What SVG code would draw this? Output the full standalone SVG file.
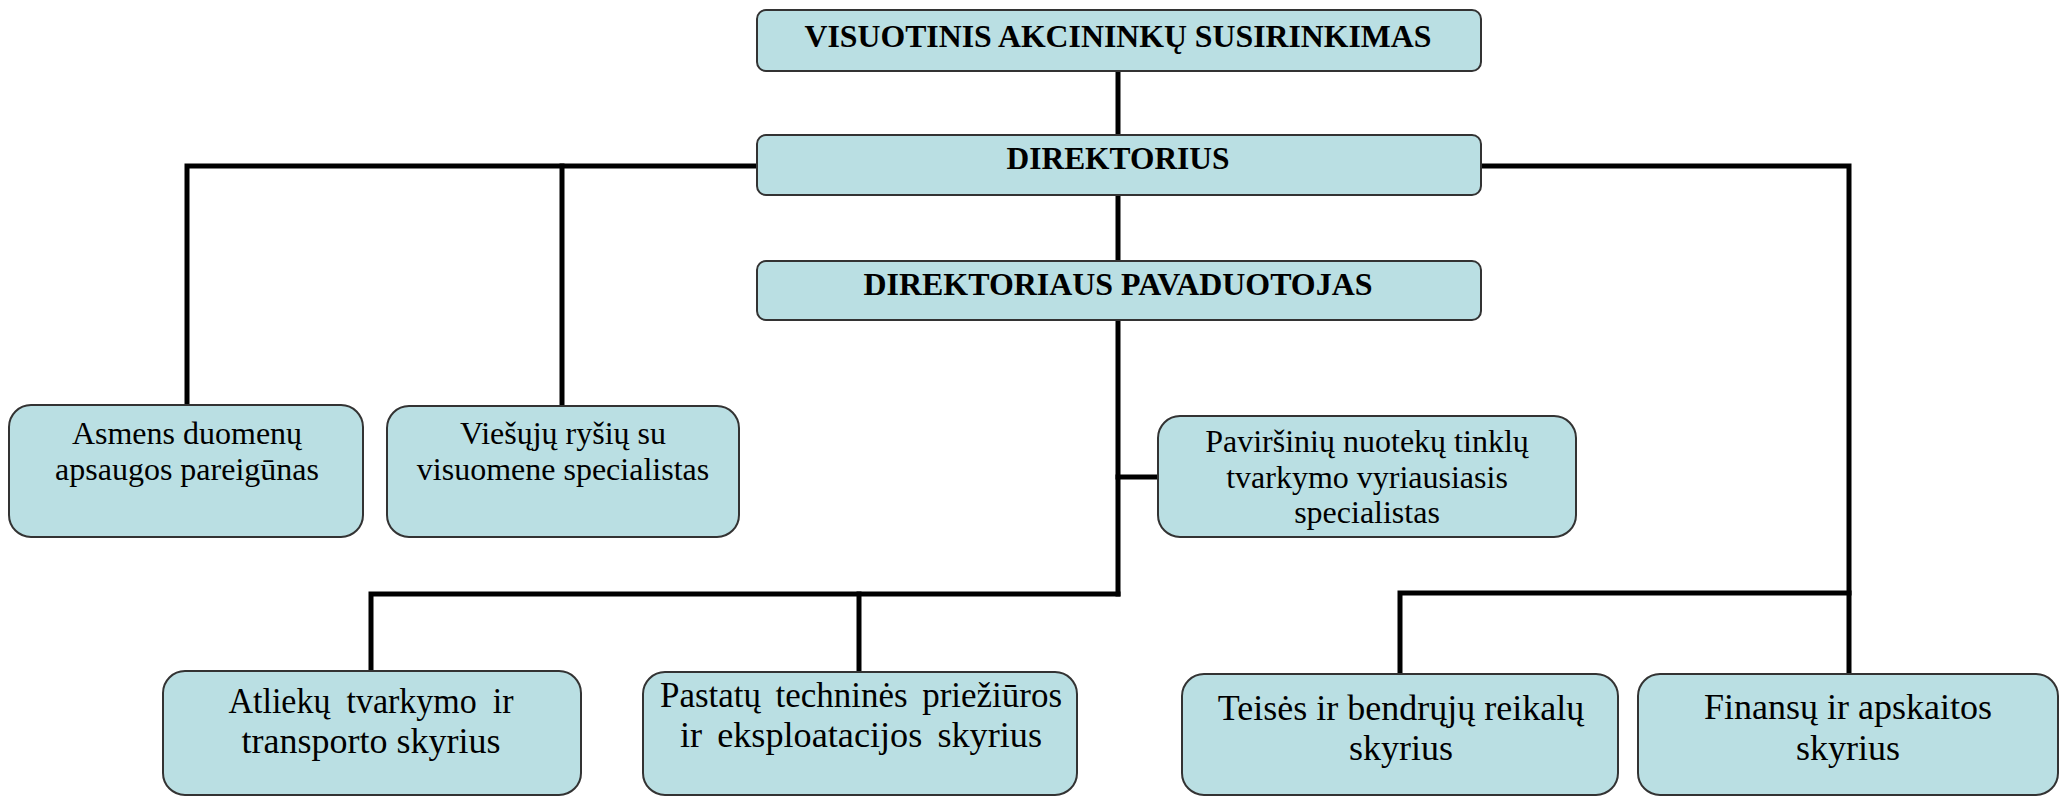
<svg xmlns="http://www.w3.org/2000/svg" width="2063" height="797" viewBox="0 0 2063 797">
<style>
.box{fill:#BADFE3;stroke:#333;stroke-width:2}
.t{font-family:'Liberation Serif','Times New Roman',serif;fill:#000;text-anchor:middle}
.h{font-weight:bold;font-size:31px}
.m{font-size:32px}
.b{font-size:36px}
.c{fill:none;stroke:#000;stroke-width:5;stroke-linecap:square}
</style>
<rect width="2063" height="797" fill="#fff"/>
<g id="connectors">
<line class="c" x1="1118" y1="71" x2="1118" y2="135"/>
<line class="c" x1="1118" y1="195" x2="1118" y2="261"/>
<polyline class="c" points="187,405 187,166 757,166"/>
<line class="c" x1="562" y1="166" x2="562" y2="405"/>
<polyline class="c" points="1481,166 1849,166 1849,674"/>
<polyline class="c" points="1400,674 1400,593 1849,593"/>
<line class="c" x1="1118" y1="320" x2="1118" y2="594"/>
<line class="c" x1="1118" y1="477" x2="1158" y2="477"/>
<polyline class="c" points="371,671 371,594 1118,594"/>
<line class="c" x1="859" y1="594" x2="859" y2="672"/>
</g>
<g id="n-visuotinis">
<rect class="box" x="757" y="10" width="724" height="61" rx="9"/>
<text class="t h" x="1118" y="47" textLength="627" lengthAdjust="spacingAndGlyphs">VISUOTINIS AKCININKŲ SUSIRINKIMAS</text>
</g>
<g id="n-direktorius">
<rect class="box" x="757" y="135" width="724" height="60" rx="9"/>
<text class="t h" x="1118" y="169" textLength="223" lengthAdjust="spacingAndGlyphs">DIREKTORIUS</text>
</g>
<g id="n-pavaduotojas">
<rect class="box" x="757" y="261" width="724" height="59" rx="9"/>
<text class="t h" x="1118" y="295" textLength="509" lengthAdjust="spacingAndGlyphs">DIREKTORIAUS PAVADUOTOJAS</text>
</g>
<g id="n-asmens">
<rect class="box" x="9" y="405" width="354" height="132" rx="22"/>
<text class="t m" x="187" y="444">Asmens duomenų</text>
<text class="t m" x="187" y="480">apsaugos pareigūnas</text>
</g>
<g id="n-viesuju">
<rect class="box" x="387" y="406" width="352" height="131" rx="22"/>
<text class="t m" x="563" y="444">Viešųjų ryšių su</text>
<text class="t m" x="563" y="480">visuomene specialistas</text>
</g>
<g id="n-pavirsiniu">
<rect class="box" x="1158" y="416" width="418" height="121" rx="22"/>
<text class="t m" x="1367" y="452">Paviršinių nuotekų tinklų</text>
<text class="t m" x="1367" y="488">tvarkymo vyriausiasis</text>
<text class="t m" x="1367" y="523">specialistas</text>
</g>
<g id="n-atlieku">
<rect class="box" x="163" y="671" width="418" height="124" rx="22"/>
<text class="t b" x="371" y="713" word-spacing="8" textLength="285" lengthAdjust="spacingAndGlyphs">Atliekų tvarkymo ir</text>
<text class="t b" x="371" y="753">transporto skyrius</text>
</g>
<g id="n-pastatu">
<rect class="box" x="643" y="672" width="434" height="123" rx="22"/>
<text class="t b" x="861" y="707" word-spacing="6" textLength="402" lengthAdjust="spacingAndGlyphs">Pastatų techninės priežiūros</text>
<text class="t b" x="861" y="747" word-spacing="6" textLength="362" lengthAdjust="spacingAndGlyphs">ir eksploatacijos skyrius</text>
</g>
<g id="n-teises">
<rect class="box" x="1182" y="674" width="436" height="121" rx="22"/>
<text class="t b" x="1401" y="720">Teisės ir bendrųjų reikalų</text>
<text class="t b" x="1401" y="760">skyrius</text>
</g>
<g id="n-finansu">
<rect class="box" x="1638" y="674" width="420" height="121" rx="22"/>
<text class="t b" x="1848" y="719">Finansų ir apskaitos</text>
<text class="t b" x="1848" y="760">skyrius</text>
</g>
</svg>
